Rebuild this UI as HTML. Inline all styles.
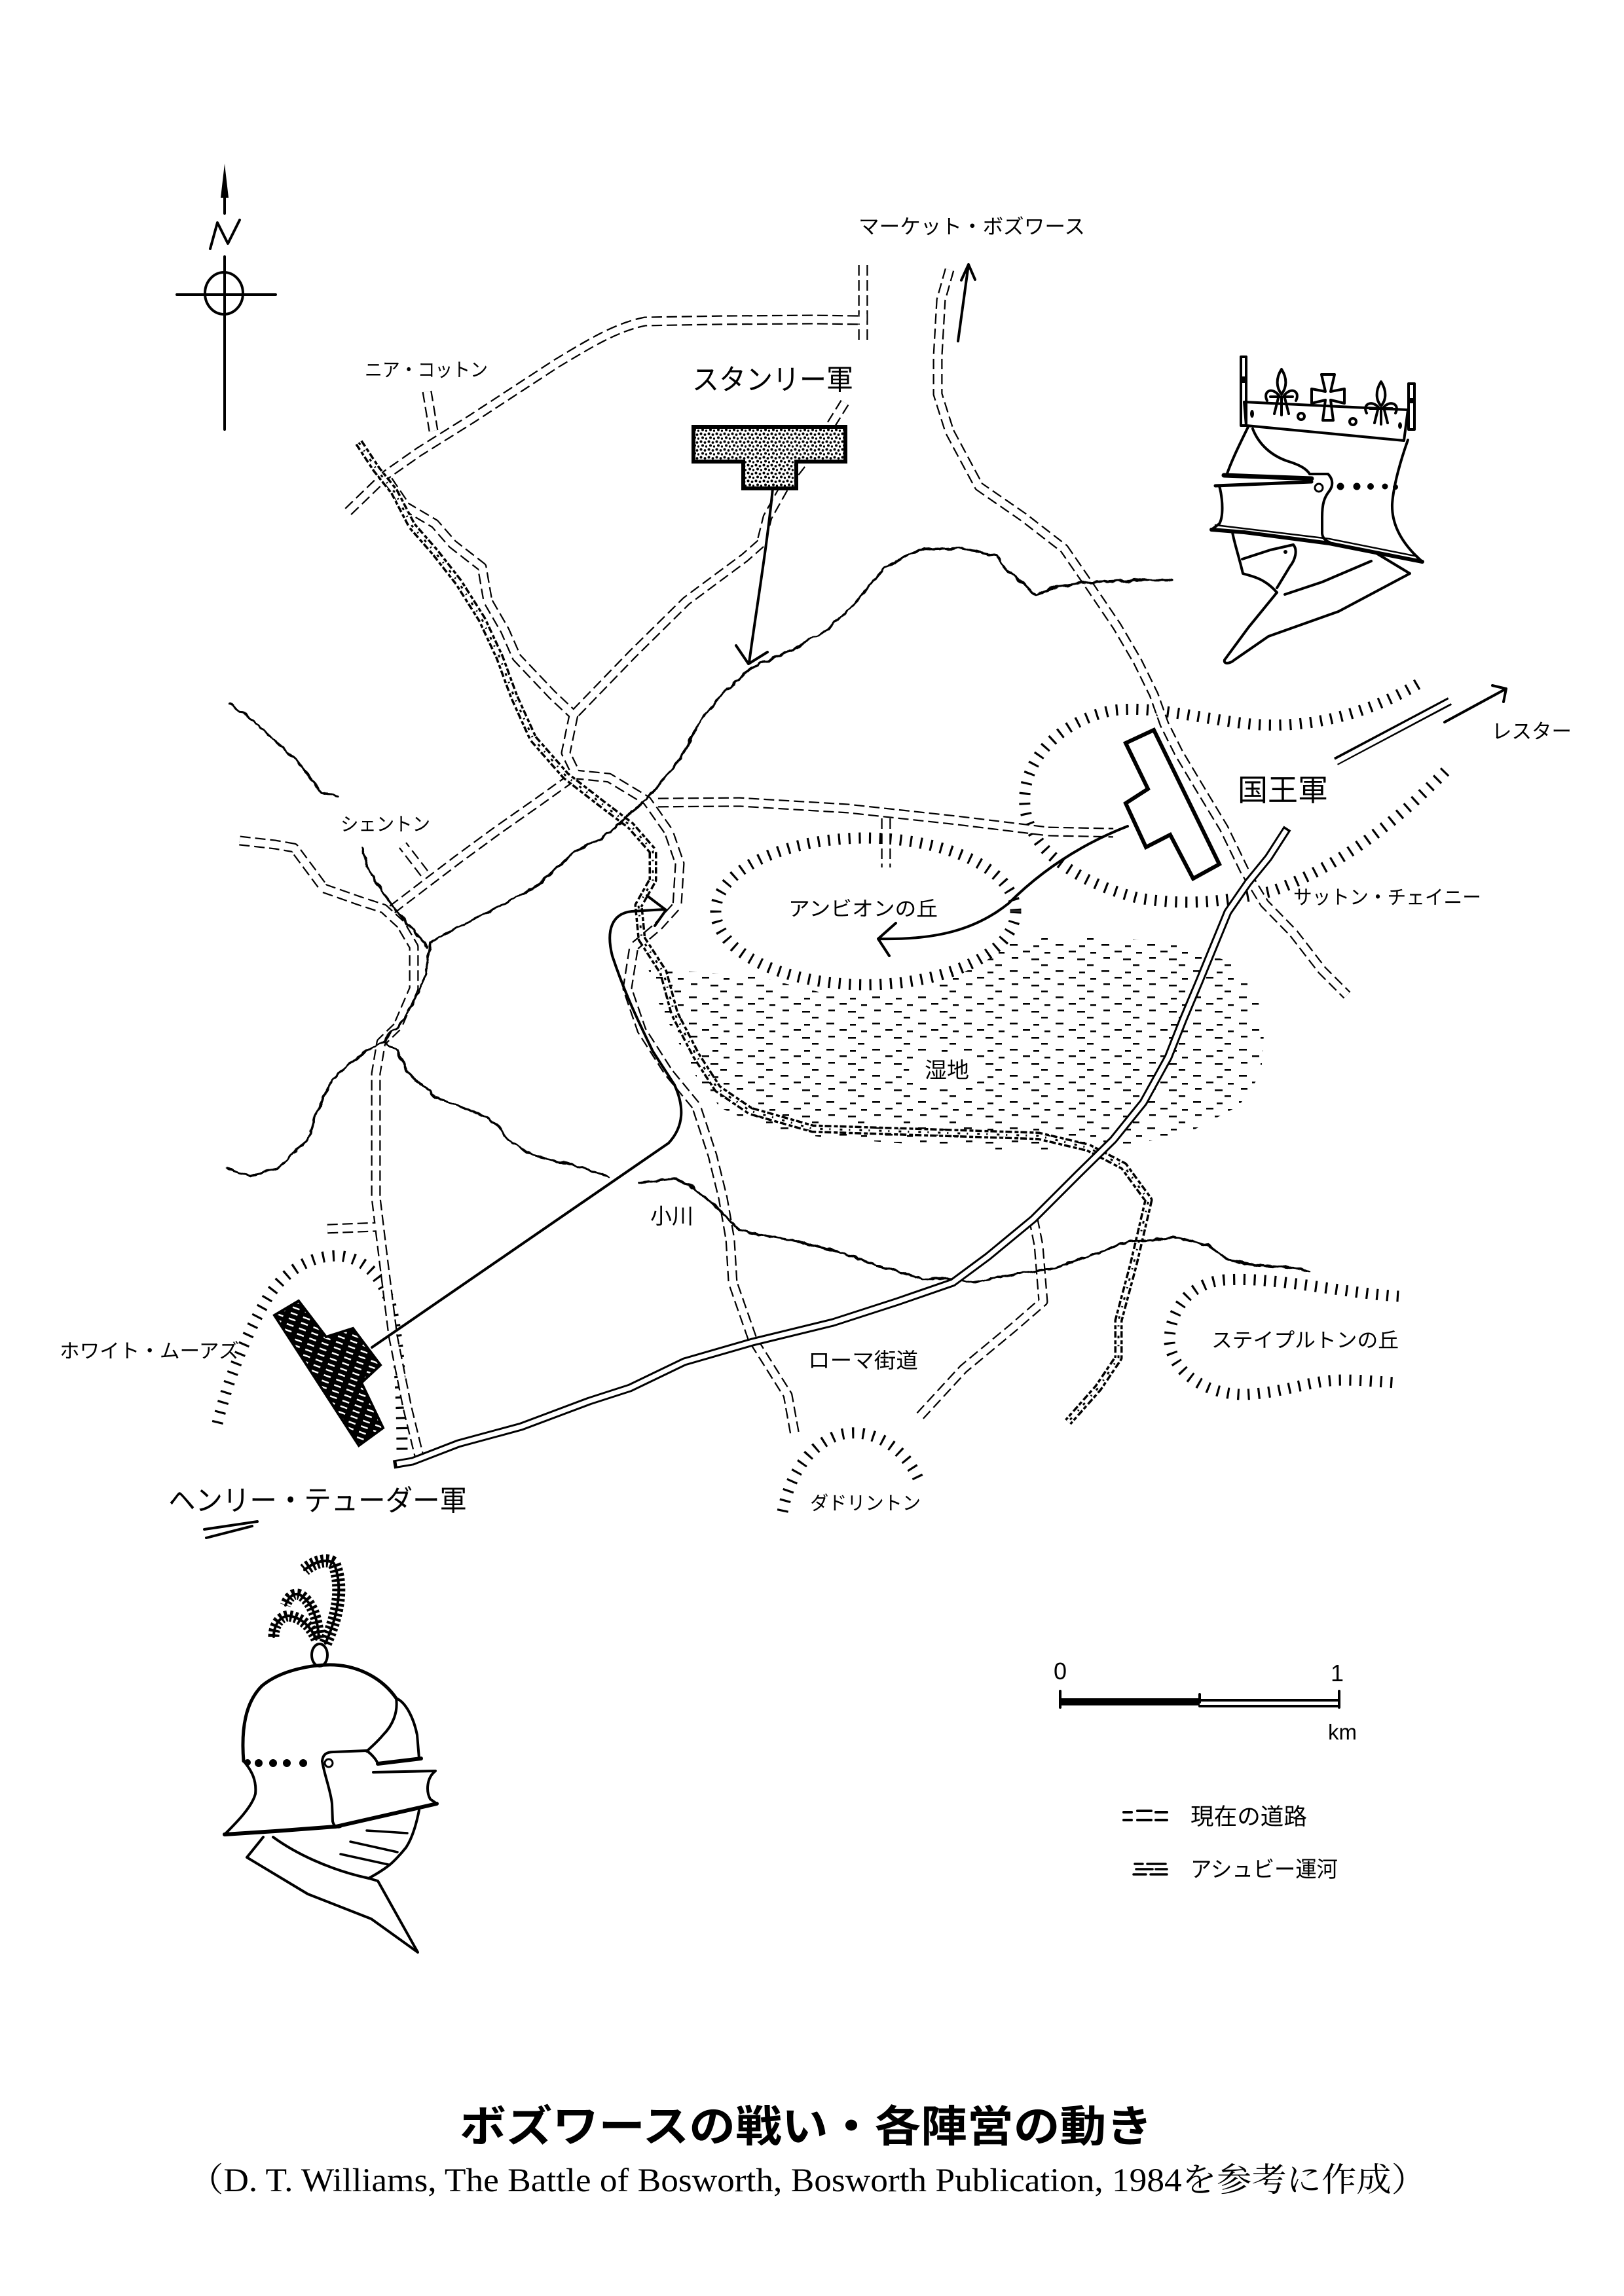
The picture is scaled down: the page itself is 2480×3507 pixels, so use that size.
<!DOCTYPE html>
<html><head><meta charset="utf-8"><style>
html,body{margin:0;padding:0;background:#fff}
svg{display:block}
text{font-family:"Liberation Sans","Noto Sans CJK JP",sans-serif;fill:#000}
.rb{fill:none;stroke:#000;stroke-width:15;stroke-dasharray:16 7;stroke-linejoin:round}
.rw{fill:none;stroke:#fff;stroke-width:10.5;stroke-linejoin:round}
.hach{fill:none;stroke:#000;stroke-width:17;stroke-dasharray:3.2 12.5}
.riv{fill:none;stroke:#000;stroke-width:3.5;stroke-linejoin:round;stroke-linecap:round}
.ln{fill:none;stroke:#000;stroke-width:4;stroke-linejoin:round;stroke-linecap:round}
</style></head><body>
<svg width="2480" height="3507" viewBox="0 0 2480 3507" xmlns="http://www.w3.org/2000/svg">
<defs>
<pattern id="marsh" width="70" height="40" patternUnits="userSpaceOnUse">
<rect x="2" y="2" width="12" height="2.6"/><rect x="38" y="4" width="9" height="2.6"/><rect x="22" y="12" width="11" height="2.6"/><rect x="55" y="14" width="9" height="2.6"/><rect x="5" y="22" width="10" height="2.6"/><rect x="35" y="24" width="12" height="2.6"/><rect x="50" y="33" width="10" height="2.6"/>
</pattern>
<pattern id="stip" width="12" height="12" patternUnits="userSpaceOnUse">
<rect width="12" height="12" fill="#fff"/><circle cx="2.5" cy="2.5" r="2"/><circle cx="8.5" cy="4" r="1.9"/><circle cx="5" cy="8.5" r="2"/><circle cx="10.5" cy="10" r="1.7"/>
</pattern>
<pattern id="hatch" width="20" height="9" patternUnits="userSpaceOnUse" patternTransform="rotate(20)">
<rect width="20" height="9" fill="#000"/><rect x="3" y="3" width="11" height="2.5" fill="#fff"/>
</pattern>
<filter id="wig" x="-5%" y="-5%" width="110%" height="110%">
<feTurbulence type="fractalNoise" baseFrequency="0.07" numOctaves="2" seed="3"/>
<feDisplacementMap in="SourceGraphic" scale="7" xChannelSelector="R" yChannelSelector="G"/>
</filter>
</defs>

<!-- Compass -->
<path d="M343,300 L343,326 M343,392 L343,656" class="ln" stroke-width="3"/>
<path d="M343,250 L337,302 L349,302 Z" fill="#000"/>
<path d="M321,380 L332,340 L348,372 L366,336" class="ln" stroke-width="4"/>
<ellipse cx="342" cy="448" rx="29" ry="32" class="ln"/>
<path d="M270,450 L421,450" class="ln" stroke-width="3.5"/>

<!-- Marsh -->
<path d="M990,1480 L1150,1490 L1250,1515 L1400,1518 L1500,1445 L1600,1432 L1700,1432 L1800,1442 L1880,1470 L1920,1520 L1930,1580 L1926,1640 L1892,1689 L1815,1730 L1700,1755 L1550,1760 L1400,1748 L1260,1738 L1165,1722 L1100,1692 L1060,1640 L1030,1580 L1005,1530 Z" fill="url(#marsh)"/>
<ellipse cx="1322" cy="1392" rx="236" ry="120" fill="#fff"/>
<ellipse cx="1446" cy="1636" rx="58" ry="28" fill="#fff"/>

<!-- Hachured hills -->
<ellipse cx="1322" cy="1392" rx="229" ry="112" class="hach"/>
<path class="hach" d="M2165,1045 C2080,1095 1990,1115 1900,1105 C1820,1095 1760,1078 1700,1085 C1620,1100 1560,1160 1565,1230 C1570,1300 1650,1350 1740,1372 C1820,1385 1880,1375 1940,1362 C2030,1330 2120,1270 2215,1170"/>
<path class="hach" d="M332,2174 C350,2100 380,2030 410,1980 C440,1935 480,1918 515,1918 C555,1920 585,1950 597,1995 C608,2040 614,2120 614,2225"/>
<path class="hach" d="M1195,2309 C1205,2260 1230,2210 1280,2192 C1330,2178 1380,2210 1402,2258"/>
<path class="hach" d="M2136,1980 C2050,1975 1950,1950 1870,1955 C1810,1960 1785,2010 1786,2050 C1790,2095 1840,2130 1900,2130 C1960,2128 2000,2108 2050,2108 C2090,2108 2120,2112 2136,2112"/>

<!-- Roads -->
<g id="roads">
<path class="rb" d="M1318,405 L1318,489 L1240,488 L1100,489 L985,491 C940,500 900,525 850,555 L720,640 L640,690 L590,725 L528,785"/>
<path class="rb" d="M1318,480 L1318,522"/>
<path class="rb" d="M652,598 L662,658"/>
<path class="rb" d="M593,734 L620,774 L664,800 L691,831 L736,866 L745,918 L771,963 L789,1004 L843,1061 L876,1092"/>
<path class="rb" d="M1290,615 L1262,660 L1200,740 L1172,790 L1162,830 L1137,852 L1048,918 L965,1000 L876,1092"/>
<path class="rb" d="M876,1092 L864,1150 L880,1183 L930,1188 L988,1223 L1021,1270 L1038,1319 L1034,1383 L1005,1415 L968,1446 L958,1510 L980,1574 L1021,1638 L1063,1689 L1088,1765 L1104,1830 L1115,1893 L1119,1959 L1149,2045 L1203,2131 L1214,2192"/>
<path class="rb" d="M599,1389 L650,1350 L700,1312 L760,1268 L820,1226 L880,1183"/>
<path class="rb" d="M648,1334 L615,1291"/>
<path class="rb" d="M366,1284 L420,1290 L449,1295 L475,1330 L495,1357 L549,1376 L586,1388 L612,1412 L632,1446 L632,1510 L607,1568 L582,1592 L574,1640 L574,1740 L574,1829 L585,1920 L600,2040 L622,2150 L642,2232"/>
<path class="rb" d="M500,1877 L576,1874"/>
<path class="rb" d="M1450,412 L1437,458 L1432,544 L1432,602 L1450,659 L1495,743 L1563,790 L1625,838 L1656,883 L1706,957 L1737,1010 L1762,1061 L1778,1106 L1800,1150 L1831,1202 L1869,1265 L1900,1329 L1931,1380 L1975,1425 L2019,1482 L2057,1520"/>
<path class="rb" d="M1005,1226 L1129,1225 L1295,1235 L1461,1253 L1600,1270 L1700,1272"/>
<path class="rb" d="M1353,1250 L1353,1325"/>
<path class="rb" d="M1578,1862 L1586,1902 L1593,1988 L1547,2028 L1471,2091 L1402,2166"/>
</g>
<g>
<path class="rw" d="M1318,405 L1318,489 L1240,488 L1100,489 L985,491 C940,500 900,525 850,555 L720,640 L640,690 L590,725 L528,785"/>
<path class="rw" d="M1318,480 L1318,522"/>
<path class="rw" d="M652,598 L662,658"/>
<path class="rw" d="M593,734 L620,774 L664,800 L691,831 L736,866 L745,918 L771,963 L789,1004 L843,1061 L876,1092"/>
<path class="rw" d="M1290,615 L1262,660 L1200,740 L1172,790 L1162,830 L1137,852 L1048,918 L965,1000 L876,1092"/>
<path class="rw" d="M876,1092 L864,1150 L880,1183 L930,1188 L988,1223 L1021,1270 L1038,1319 L1034,1383 L1005,1415 L968,1446 L958,1510 L980,1574 L1021,1638 L1063,1689 L1088,1765 L1104,1830 L1115,1893 L1119,1959 L1149,2045 L1203,2131 L1214,2192"/>
<path class="rw" d="M599,1389 L650,1350 L700,1312 L760,1268 L820,1226 L880,1183"/>
<path class="rw" d="M648,1334 L615,1291"/>
<path class="rw" d="M366,1284 L420,1290 L449,1295 L475,1330 L495,1357 L549,1376 L586,1388 L612,1412 L632,1446 L632,1510 L607,1568 L582,1592 L574,1640 L574,1740 L574,1829 L585,1920 L600,2040 L622,2150 L642,2232"/>
<path class="rw" d="M500,1877 L576,1874"/>
<path class="rw" d="M1450,412 L1437,458 L1432,544 L1432,602 L1450,659 L1495,743 L1563,790 L1625,838 L1656,883 L1706,957 L1737,1010 L1762,1061 L1778,1106 L1800,1150 L1831,1202 L1869,1265 L1900,1329 L1931,1380 L1975,1425 L2019,1482 L2057,1520"/>
<path class="rw" d="M1005,1226 L1129,1225 L1295,1235 L1461,1253 L1600,1270 L1700,1272"/>
<path class="rw" d="M1353,1250 L1353,1325"/>
<path class="rw" d="M1578,1862 L1586,1902 L1593,1988 L1547,2028 L1471,2091 L1402,2166"/>
</g>

<!-- Ashby canal -->
<g fill="none" stroke-linejoin="round">
<path stroke="#000" stroke-width="13" stroke-dasharray="10 4 6 3" d="M548,676 L575,717 L602,751 L629,803 L664,843 L700,889 L736,946 L763,1004 L785,1064 L814,1128 L864,1185 L922,1230 L963,1261 L997,1300 L997,1344 L975,1383 L980,1434 L1013,1485 L1030,1548 L1063,1612 L1096,1663 L1146,1697 L1241,1724 L1432,1730 L1586,1735 L1662,1753 L1716,1781 L1754,1833 L1731,1931 L1708,2017 L1708,2074 L1677,2120 L1631,2172"/>
<path stroke="#fff" stroke-width="6" d="M548,676 L575,717 L602,751 L629,803 L664,843 L700,889 L736,946 L763,1004 L785,1064 L814,1128 L864,1185 L922,1230 L963,1261 L997,1300 L997,1344 L975,1383 L980,1434 L1013,1485 L1030,1548 L1063,1612 L1096,1663 L1146,1697 L1241,1724 L1432,1730 L1586,1735 L1662,1753 L1716,1781 L1754,1833 L1731,1931 L1708,2017 L1708,2074 L1677,2120 L1631,2172"/>
<path stroke="#000" stroke-width="3" stroke-dasharray="4 10 2 14" d="M548,676 L575,717 L602,751 L629,803 L664,843 L700,889 L736,946 L763,1004 L785,1064 L814,1128 L864,1185 L922,1230 L963,1261 L997,1300 L997,1344 L975,1383 L980,1434 L1013,1485 L1030,1548 L1063,1612 L1096,1663 L1146,1697 L1241,1724 L1432,1730 L1586,1735 L1662,1753 L1716,1781 L1754,1833 L1731,1931 L1708,2017 L1708,2074 L1677,2120 L1631,2172"/>
</g>

<!-- Rivers -->
<g filter="url(#wig)">
<path class="riv" d="M1790,886 L1737,886 L1662,889 L1606,899 L1581,908 L1537,870 L1521,849 L1468,837 L1405,840 L1352,866 L1298,929 L1262,963 L1209,992 L1146,1021 L1102,1061 L1070,1100 L1035,1165 L988,1220 L920,1280 L880,1300 L814,1357 L760,1385 L715,1408 L657,1440 L648,1497 L615,1561 L586,1590"/>
<path class="riv" d="M553,1297 L565,1332 L599,1383 L632,1421 L652,1446"/>
<path class="riv" d="M586,1590 L549,1612 L507,1650 L482,1701 L470,1740 L424,1784 L383,1797 L346,1784"/>
<path class="riv" d="M586,1590 L607,1606 L623,1638 L665,1676 L715,1695 L748,1708 L781,1746 L814,1765 L880,1781 L930,1797"/>
<path class="riv" d="M350,1073 L385,1100 L424,1134 L460,1170 L491,1210 L516,1217"/>
<path class="riv" d="M976,1807 L1030,1800 L1060,1815 L1096,1845 L1129,1880 L1170,1888 L1212,1895 L1280,1912 L1330,1930 L1378,1944 L1410,1953 L1452,1953 L1486,1959 L1530,1950 L1555,1945 L1601,1939 L1662,1919 L1723,1896 L1760,1893 L1800,1890 L1846,1902 L1876,1925 L1920,1932 L1968,1936 L1999,1942"/>
</g>

<!-- Roman road -->
<path fill="none" stroke="#000" stroke-width="13" stroke-linejoin="round" d="M601,2237 L630,2232 L700,2205 L796,2179 L900,2140 L962,2120 L1045,2080 L1149,2050 L1272,2020 L1371,1988 L1455,1959 L1509,1919 L1578,1862 L1647,1793 L1700,1741 L1746,1684 L1784,1615 L1807,1557 L1831,1500 L1875,1393 L1906,1348 L1937,1310 L1966,1265"/>
<path fill="none" stroke="#fff" stroke-width="7" stroke-linejoin="round" d="M606,2236 L630,2232 L700,2205 L796,2179 L900,2140 L962,2120 L1045,2080 L1149,2050 L1272,2020 L1371,1988 L1455,1959 L1509,1919 L1578,1862 L1647,1793 L1700,1741 L1746,1684 L1784,1615 L1807,1557 L1831,1500 L1875,1393 L1906,1348 L1937,1310 L1964,1268"/>

<!-- Leicester road -->
<path fill="none" stroke="#000" stroke-width="13" d="M2040,1163 L2214,1071"/>
<path fill="none" stroke="#fff" stroke-width="7" d="M2038,1165 L2216,1070"/>
<path class="ln" stroke-width="3.5" d="M2206,1103 L2300,1052 M2279,1047 L2300,1052 L2296,1072"/>

<!-- Market Bosworth arrow -->
<path class="ln" stroke-width="3" d="M1463,521 L1479,404 M1468,428 L1479,404 L1489,427"/>

<!-- Henry double mark -->
<path class="ln" stroke-width="3.5" d="M312,2336 L393,2324 M315,2349 L385,2331"/>

<!-- Army movement arrows -->
<path class="ln" stroke-width="4.5" d="M1180,746 C1172,830 1155,930 1144,1012 M1124,986 L1143,1014 L1172,996"/>
<path class="ln" stroke-width="5" d="M1722,1262 C1650,1290 1590,1330 1540,1380 C1490,1420 1430,1436 1341,1434 M1368,1410 L1341,1434 L1358,1460"/>
<path class="ln" stroke-width="5" d="M568,2058 L1021,1746 C1045,1720 1045,1690 1030,1657 L997,1606 C975,1560 955,1520 935,1460 C925,1420 935,1395 965,1392 L1015,1389 M988,1368 L1017,1390 L1000,1414"/>

<!-- Army blocks -->
<path d="M1059,652 L1291,652 L1291,705 L1216,705 L1216,746 L1135,746 L1135,705 L1059,705 Z" fill="url(#stip)" stroke="#000" stroke-width="6" stroke-linejoin="miter"/>
<path d="M1719,1135 L1762,1115 L1862,1320 L1822,1342 L1787,1275 L1750,1294 L1719,1227 L1753,1205 Z" fill="#fff" stroke="#000" stroke-width="6"/>
<path d="M419,2009 L456,1987 L498,2042 L539,2029 L581,2085 L552,2112 L585,2181 L548,2208 Z" fill="url(#hatch)" stroke="#000" stroke-width="4"/>

<!-- King's helmet with crown -->
<g class="ln" fill="#fff" stroke-width="3.5">
<rect x="1895" y="545" width="8" height="105" fill="#fff"/>
<rect x="2151" y="586" width="9" height="70" fill="#fff"/>
<path d="M1900,614 L2150,626 L2144,673 L1903,650 Z"/>
<circle cx="1987" cy="636" r="5"/><circle cx="2066" cy="644" r="5"/>
</g>
<ellipse cx="1912" cy="632" rx="3" ry="6"/><ellipse cx="2138" cy="650" rx="3" ry="5"/>
<rect x="1893" y="575" width="12" height="10"/><rect x="2149" y="608" width="12" height="8"/>
<g class="ln" stroke-width="3" fill="#fff">
<path d="M1957,564 C1966,578 1965,592 1957,602 C1949,592 1948,578 1957,564 Z"/>
<path d="M1953,604 C1942,590 1928,598 1935,612 M1961,604 C1972,590 1986,598 1979,612 M1940,606 L1974,606 M1952,608 L1946,632 M1962,608 L1968,632 M1957,608 L1957,634"/>
<path d="M2109,583 C2118,597 2117,611 2109,620 C2101,611 2100,597 2109,583 Z"/>
<path d="M2105,622 C2094,610 2080,618 2087,631 M2113,622 C2124,610 2138,618 2131,631 M2092,624 L2126,624 M2104,626 L2099,646 M2114,626 L2119,646 M2109,626 L2109,648"/>
<path d="M2018,572 L2038,572 L2032,598 L2053,594 L2053,616 L2032,611 L2036,642 L2020,642 L2024,611 L2003,616 L2003,594 L2024,598 Z"/>
</g>
<g class="ln" stroke-width="4">
<path d="M1906,652 C1895,675 1882,700 1873,726"/>
<path d="M1869,726 L2003,731" stroke-width="7"/>
<path d="M1856,742 L2003,736" stroke-width="5"/>
<path d="M1862,742 C1868,765 1868,790 1862,800 L1850,809"/>
<path d="M1850,809 L1900,813 L2030,830 L2172,858" stroke-width="6"/>
<path d="M1856,802 L2030,823 L2165,850" stroke-width="2.5"/>
<path d="M2150,672 C2140,700 2128,740 2126,770 C2125,800 2140,830 2172,858"/>
<path d="M1913,655 C1922,678 1940,695 1965,704 C1985,710 1995,716 2000,724"/>
<path d="M2000,724 L2028,724 C2036,732 2036,742 2030,750 C2022,760 2019,770 2019,790 L2019,815 C2020,822 2024,826 2030,828"/>
<circle cx="2014" cy="745" r="6" stroke-width="3"/>
<path d="M1882,813 C1885,830 1892,850 1898,876 C1910,880 1930,882 1950,905"/>
<path d="M1897,854 L1940,840 L1975,832 C1982,840 1978,855 1970,865 L1950,898"/>
<path d="M1950,905 L1906,959 L1870,1008 C1868,1015 1878,1014 1885,1008 L1937,972 L2044,934 L2153,876 L2100,844"/>
<path d="M1962,908 L2019,889 L2094,857"/>
</g>
<circle cx="2047" cy="743" r="5.5"/><circle cx="2072" cy="743" r="5.5"/><circle cx="2093" cy="743" r="5"/><circle cx="2115" cy="743" r="4.5"/><circle cx="2131" cy="744" r="4"/><circle cx="1963" cy="843" r="3"/>

<!-- Henry's helmet -->
<g class="ln" stroke-width="4">
<path d="M497,2510 C515,2470 525,2425 510,2388 C500,2380 480,2385 465,2398" stroke-width="20" stroke-dasharray="4 3.5" stroke-linecap="butt"/>
<path d="M497,2510 C515,2470 525,2425 510,2388 C500,2380 480,2385 465,2398" stroke-width="4"/>
<path d="M487,2502 C485,2470 475,2445 458,2436 C448,2432 440,2440 436,2452" stroke-width="17" stroke-dasharray="4 3.5" stroke-linecap="butt"/>
<path d="M487,2502 C485,2470 475,2445 458,2436 C448,2432 440,2440 436,2452" stroke-width="4"/>
<path d="M483,2504 C475,2485 460,2470 440,2468 C425,2470 418,2485 418,2500" stroke-width="17" stroke-dasharray="4 3.5" stroke-linecap="butt"/>
<path d="M483,2504 C475,2485 460,2470 440,2468 C425,2470 418,2485 418,2500" stroke-width="4"/>
<ellipse cx="488" cy="2528" rx="12" ry="17" fill="#fff"/>
<path d="M372,2690 C368,2640 375,2600 400,2575 C430,2550 480,2542 510,2543 C550,2545 585,2565 605,2594" stroke-width="5"/>
<path d="M605,2594 C620,2600 632,2625 637,2650 L640,2686"/>
<path d="M605,2594 C608,2615 600,2635 585,2650 C575,2662 565,2670 560,2675"/>
<path d="M492,2690 C493,2680 498,2676 510,2676 L560,2674 C568,2680 575,2688 577,2694 L643,2686"/>
<path d="M577,2694 L643,2686" stroke-width="6"/>
<path d="M570,2707 L665,2705 C652,2715 650,2735 657,2748 L667,2755"/>
<path d="M492,2690 C495,2710 505,2735 507,2755 L508,2782 C510,2790 515,2792 520,2790"/>
<path d="M343,2802 L420,2797 L513,2790 L667,2755" stroke-width="6"/>
<path d="M343,2802 C360,2785 385,2760 390,2740 C392,2720 385,2705 372,2690"/>
<circle cx="502" cy="2693" r="6" stroke-width="3"/>
<path d="M402,2806 L377,2837 L470,2893 L567,2931 L638,2982 L577,2873 L563,2869"/>
<path d="M417,2806 C450,2830 500,2855 563,2869"/>
<path d="M640,2765 C635,2790 628,2810 620,2822 C612,2832 600,2845 593,2850 C580,2860 570,2865 563,2869"/>
<path d="M560,2796 L622,2800 M535,2813 L607,2829 M520,2832 L593,2848" stroke-width="3.5"/>
</g>
<circle cx="378" cy="2692" r="5"/><circle cx="395" cy="2693" r="6"/><circle cx="417" cy="2693" r="6"/><circle cx="438" cy="2693" r="6"/><circle cx="463" cy="2693" r="6"/>

<!-- Scale bar -->
<g class="ln" stroke-width="2.5" stroke-linecap="butt">
<path d="M1619,2583 L1619,2608 M1832,2588 L1832,2600 M2045,2583 L2045,2608"/>
<path d="M1832,2597 L2045,2597 M1832,2606 L2045,2606"/>
</g>
<rect x="1619" y="2594" width="213" height="11"/>
<text x="1609" y="2565" font-size="36">0</text>
<text x="2032" y="2568" font-size="36">1</text>
<text x="2028" y="2657" font-size="33">km</text>

<!-- Legend -->
<g class="ln" stroke-width="3" stroke-linecap="butt">
<path d="M1716,2768 L1728,2768 M1737,2766 L1758,2766 M1765,2768 L1782,2768 M1716,2780 L1728,2780 M1737,2780 L1758,2780 M1765,2780 L1782,2780"/>
<path d="M1733,2847 L1745,2847 M1752,2847 L1780,2847 M1735,2855 L1760,2855 M1765,2855 L1782,2855 M1731,2863 L1750,2863 M1757,2863 L1782,2863" stroke-width="3.5"/>
</g>
<text x="1818" y="2787" font-size="35" textLength="178" lengthAdjust="spacingAndGlyphs">現在の道路</text>
<text x="1818" y="2867" font-size="34" textLength="225" lengthAdjust="spacingAndGlyphs">アシュビー運河</text>

<!-- Map labels -->
<text x="1311" y="357" font-size="31" textLength="346" lengthAdjust="spacingAndGlyphs">マーケット・ボズワース</text>
<text x="557" y="575" font-size="29" textLength="188" lengthAdjust="spacingAndGlyphs">ニア・コットン</text>
<text x="1057" y="595" font-size="44" textLength="246" lengthAdjust="spacingAndGlyphs">スタンリー軍</text>
<text x="1890" y="1223" font-size="46" textLength="138" lengthAdjust="spacingAndGlyphs">国王軍</text>
<text x="2278" y="1128" font-size="31" textLength="122" lengthAdjust="spacingAndGlyphs">レスター</text>
<text x="1975" y="1381" font-size="30" textLength="287" lengthAdjust="spacingAndGlyphs">サットン・チェイニー</text>
<text x="520" y="1269" font-size="29" textLength="137" lengthAdjust="spacingAndGlyphs">シェントン</text>
<text x="1204" y="1399" font-size="31" textLength="228" lengthAdjust="spacingAndGlyphs">アンビオンの丘</text>
<text x="1412" y="1646" font-size="33" textLength="68" lengthAdjust="spacingAndGlyphs">湿地</text>
<text x="993" y="1869" font-size="33" textLength="66" lengthAdjust="spacingAndGlyphs">小川</text>
<text x="91" y="2074" font-size="30" textLength="274" lengthAdjust="spacingAndGlyphs">ホワイト・ムーアズ</text>
<text x="1234" y="2089" font-size="32" textLength="168" lengthAdjust="spacingAndGlyphs">ローマ街道</text>
<text x="1237" y="2306" font-size="29" textLength="169" lengthAdjust="spacingAndGlyphs">ダドリントン</text>
<text x="1850" y="2058" font-size="31" textLength="286" lengthAdjust="spacingAndGlyphs">ステイプルトンの丘</text>
<text x="257" y="2307" font-size="44" textLength="456" lengthAdjust="spacingAndGlyphs">ヘンリー・テューダー軍</text>

<!-- Title -->
<text x="702" y="3271" font-size="66" font-weight="bold" textLength="1058" lengthAdjust="spacingAndGlyphs">ボズワースの戦い・各陣営の動き</text>
<text x="288" y="3347" font-size="51" textLength="1890" lengthAdjust="spacingAndGlyphs" style="font-family:'Liberation Serif','Noto Serif CJK SC',serif">（D. T. Williams, The Battle of Bosworth, Bosworth Publication, 1984を参考に作成）</text>
</svg>
</body></html>
